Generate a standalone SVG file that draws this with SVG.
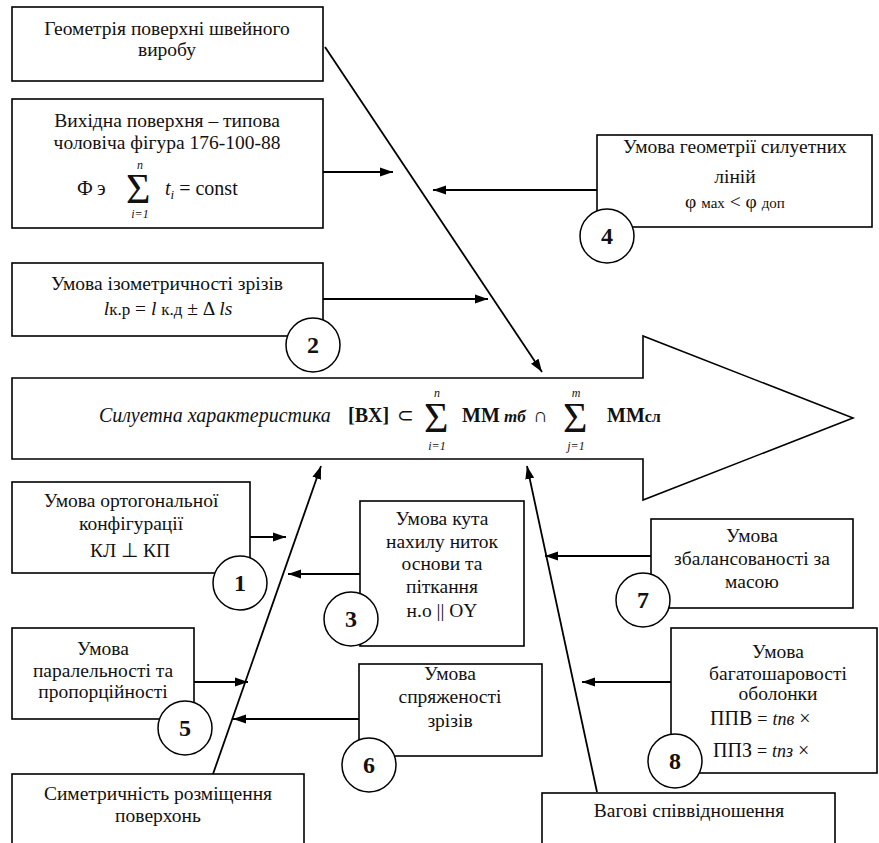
<svg xmlns="http://www.w3.org/2000/svg" width="879" height="843" viewBox="0 0 879 843">
<defs>
<style>
.b{fill:#fff;stroke:#000;stroke-width:1.6}
.c{fill:#fff;stroke:#000;stroke-width:1.5}
.t{font-family:"Liberation Serif","Times New Roman",serif;font-size:19.5px;fill:#111;text-anchor:middle}
.l{font-family:"Liberation Serif","Times New Roman",serif;font-size:20px;fill:#111}
.n{font-family:"Liberation Serif","Times New Roman",serif;font-size:24px;font-weight:bold;fill:#111;text-anchor:middle}
.s{font-family:"Liberation Serif","Times New Roman",serif;font-size:42px;fill:#111}
.sm{font-family:"Liberation Serif","Times New Roman",serif;font-size:12px;font-style:italic;fill:#111;text-anchor:middle}
.k{stroke:#000;stroke-width:1.8;fill:none}
</style>
<marker id="ah" markerUnits="userSpaceOnUse" markerWidth="14" markerHeight="10" refX="13" refY="5" orient="auto">
<path d="M0,0.5 L13,5 L0,9.5 Z" fill="#000"/>
</marker>
</defs>
<rect width="879" height="843" fill="#fff"/>

<g id="main-arrow">
<polygon class="b" points="12,378 643,378 643,336 853,418 643,500 643,459 12,459"/>
<text class="l" x="99" y="422" font-style="italic" font-size="19.5">Силуетна характеристика</text>
<text class="l" x="348" y="422" font-weight="bold" font-size="21">[BX]</text>
<text class="l" x="397" y="422" font-size="24">⊂</text>
<text class="s" x="424" y="432">Σ</text>
<text class="sm" x="437" y="397">n</text>
<text class="sm" x="437" y="450">i=1</text>
<text class="l" x="462" y="422" font-weight="bold" font-size="21">MM<tspan font-style="italic" font-size="17"> mб</tspan></text>
<text class="l" x="533" y="422" font-size="24">∩</text>
<text class="s" x="563" y="432">Σ</text>
<text class="sm" x="576" y="397">m</text>
<text class="sm" x="576" y="450">j=1</text>
<text class="l" x="607" y="422" font-weight="bold" font-size="21">MM<tspan font-size="16">сл</tspan></text>
</g>

<g id="connectors">
<line class="k" x1="325" y1="47" x2="542" y2="372" marker-end="url(#ah)"/>
<line class="k" x1="213" y1="774" x2="321" y2="466" marker-end="url(#ah)"/>
<line class="k" x1="597" y1="792" x2="527" y2="466" marker-end="url(#ah)"/>
<line class="k" x1="323" y1="172" x2="393" y2="172" marker-end="url(#ah)"/>
<line class="k" x1="597" y1="190" x2="433" y2="190" marker-end="url(#ah)"/>
<line class="k" x1="323" y1="299" x2="488" y2="299" marker-end="url(#ah)"/>
<line class="k" x1="250" y1="537" x2="286" y2="537" marker-end="url(#ah)"/>
<line class="k" x1="360" y1="574" x2="288" y2="574" marker-end="url(#ah)"/>
<line class="k" x1="194" y1="682" x2="248" y2="682" marker-end="url(#ah)"/>
<line class="k" x1="359" y1="719" x2="233" y2="719" marker-end="url(#ah)"/>
<line class="k" x1="651" y1="556" x2="545" y2="556" marker-end="url(#ah)"/>
<line class="k" x1="671" y1="682" x2="582" y2="682" marker-end="url(#ah)"/>
</g>

<g id="geometry">
<rect class="b" x="12" y="7" width="311" height="74"/>
<text class="t" x="167" y="35">Геометрія поверхні швейного</text>
<text class="t" x="167" y="56">виробу</text>
</g>

<g id="source-surface">
<rect class="b" x="12" y="99" width="311" height="129"/>
<text class="t" x="167" y="127">Вихідна поверхня – типова</text>
<text class="t" x="167" y="149">чоловіча фігура 176-100-88</text>
<text class="l" x="77" y="195">Ф</text>
<text class="l" x="97" y="195">э</text>
<text class="s" x="126" y="203">Σ</text>
<text class="sm" x="140" y="169">n</text>
<text class="sm" x="140" y="218">i=1</text>
<text class="l" x="165" y="195" font-style="italic">t<tspan font-size="13" dy="4">i</tspan><tspan font-style="normal" dy="-4"> = const</tspan></text>
</g>

<g id="cond-4">
<rect class="b" x="597" y="135" width="275" height="92"/>
<text class="t" x="735" y="153">Умова геометрії силуетних</text>
<text class="t" x="735" y="183">ліній</text>
<text class="t" x="735" y="208" font-size="20">φ <tspan font-size="15">мах</tspan>  &lt; φ <tspan font-size="15">доп</tspan></text>
<circle class="c" cx="607" cy="236" r="27"/>
<text class="n" x="607" y="244">4</text>
</g>

<g id="cond-2">
<rect class="b" x="12" y="263" width="311" height="73"/>
<text class="t" x="167" y="290">Умова ізометричності зрізів</text>
<text class="t" x="168" y="315" font-size="21"><tspan font-style="italic">l</tspan><tspan font-size="17">к.р</tspan> = <tspan font-style="italic">l</tspan> <tspan font-size="17">к.д</tspan> ±  Δ <tspan font-style="italic">ls</tspan></text>
<circle class="c" cx="313" cy="345" r="27"/>
<text class="n" x="313" y="353">2</text>
</g>

<g id="cond-1">
<rect class="b" x="12" y="482" width="238" height="91"/>
<text class="t" x="131" y="507">Умова ортогональної</text>
<text class="t" x="131" y="530">конфігурації</text>
<text class="t" x="130" y="557" font-size="21">КЛ  ⊥ КП</text>
<circle class="c" cx="240" cy="583" r="27"/>
<text class="n" x="240" y="591">1</text>
</g>

<g id="cond-3">
<rect class="b" x="360" y="501" width="164" height="145"/>
<text class="t" x="442" y="525">Умова кута</text>
<text class="t" x="442" y="548">нахилу ниток</text>
<text class="t" x="442" y="570">основи та</text>
<text class="t" x="442" y="593">піткання</text>
<text class="t" x="442" y="617">н.о || OY</text>
<circle class="c" cx="351" cy="619" r="27"/>
<text class="n" x="351" y="627">3</text>
</g>

<g id="cond-7">
<rect class="b" x="651" y="519" width="202" height="89"/>
<text class="t" x="752" y="542">Умова</text>
<text class="t" x="752" y="565">збалансованості за</text>
<text class="t" x="752" y="588">масою</text>
<circle class="c" cx="643" cy="600" r="27"/>
<text class="n" x="643" y="608">7</text>
</g>

<g id="cond-5">
<rect class="b" x="12" y="628" width="182" height="91"/>
<text class="t" x="103" y="655">Умова</text>
<text class="t" x="103" y="677">паралельності та</text>
<text class="t" x="103" y="698">пропорційності</text>
<circle class="c" cx="185" cy="728" r="27"/>
<text class="n" x="185" y="736">5</text>
</g>

<g id="cond-6">
<rect class="b" x="359" y="664" width="183" height="92"/>
<text class="t" x="450" y="680">Умова</text>
<text class="t" x="450" y="703">спряженості</text>
<text class="t" x="450" y="727">зрізів</text>
<circle class="c" cx="369" cy="765" r="27"/>
<text class="n" x="369" y="773">6</text>
</g>

<g id="cond-8">
<rect class="b" x="671" y="628" width="206" height="145"/>
<text class="t" x="778" y="658">Умова</text>
<text class="t" x="778" y="680">багатошаровості</text>
<text class="t" x="778" y="700">оболонки</text>
<text class="l" x="710" y="725" font-size="22">ППВ <tspan font-size="18">=</tspan> <tspan font-style="italic" font-size="18">tпв</tspan> ×</text>
<text class="l" x="713" y="757" font-size="22">ППЗ <tspan font-size="18">=</tspan> <tspan font-style="italic" font-size="18">tпз</tspan> ×</text>
<circle class="c" cx="675" cy="761" r="27"/>
<text class="n" x="675" y="769">8</text>
</g>

<g id="symmetry">
<rect class="b" x="12" y="774" width="292" height="80"/>
<text class="t" x="158" y="800">Симетричність розміщення</text>
<text class="t" x="158" y="822">поверхонь</text>
</g>

<g id="weights">
<rect class="b" x="542" y="793" width="293" height="60"/>
<text class="t" x="689" y="817">Вагові співвідношення</text>
</g>
</svg>
